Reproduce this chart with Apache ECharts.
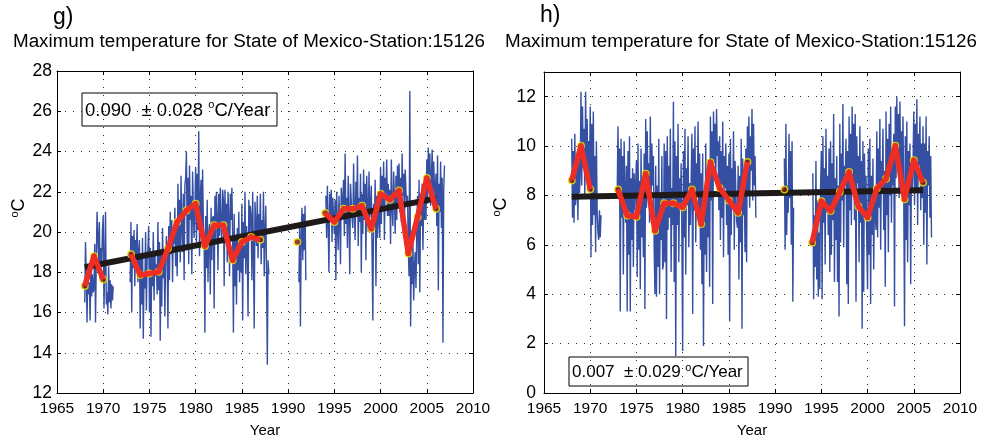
<!DOCTYPE html>
<html>
<head>
<meta charset="utf-8">
<script src="https://cdn.jsdelivr.net/npm/echarts@6/dist/echarts.min.js"></script>
<style>
  html, body { margin: 0; padding: 0; background: #fff; }
  #chart { width: 982px; height: 443px; }
</style>
</head>
<body>
<div id="chart"></div>
<script>
// ---------- Panel g: monthly maximum temperature (°C), station 15126 ----------
// Each segment starts at [year, month index (0 = Jan)] and runs month by month.
const gSegAStart = [1968, 0];
const gSegA = [
  16.5, 19.5, 17.8, 15.5, 18.2, 16.9, 17.5, 15.6, 18.4, 16.8, 17.9, 17.0,
  17.2, 19.4, 15.5, 18.6, 21.0, 19.8, 18.4, 20.5, 17.6, 19.2, 18.3, 20.1,
  20.8, 16.2, 18.5, 21.0, 16.4, 17.0, 15.9, 18.3, 16.5, 17.6, 16.2, 17.4,
  16.6, 17.3
];
const gSegBStart = [1972, 11];
const gSegB = [
  17.5,
  20.5, 16.0, 19.8, 18.2, 20.1, 17.3, 19.6, 18.8, 20.4, 17.5, 19.0, 19.6,
  15.2, 18.9, 16.4, 19.7, 14.7, 18.0, 17.2, 20.0, 16.1, 18.6, 19.1, 20.3,
  16.0, 19.2, 14.8, 18.8, 17.3, 20.0, 16.6, 19.0, 17.8, 18.4, 16.9, 20.5,
  17.1, 19.5, 14.6, 18.9, 16.3, 20.2, 17.7, 19.0, 15.8, 18.5, 19.8, 18.8,
  15.2, 20.3, 17.6, 21.0, 18.9, 20.6, 17.5, 20.1, 19.4, 21.2, 18.3, 20.1,
  17.8, 22.4, 19.3, 21.6, 18.5, 22.8, 20.1, 19.0, 21.9, 17.6, 22.3, 22.7,
  24.0, 19.2, 22.7, 18.4, 23.3, 20.6, 21.8, 17.9, 23.0, 21.1, 19.7, 21.1,
  23.2, 19.5, 22.9, 20.1, 25.0, 18.8, 21.7, 22.6, 19.9, 23.1, 20.4, 19.6,
  15.0, 20.8, 18.2, 21.6, 17.5, 19.9, 20.4, 16.9, 21.2, 18.6, 20.7, 20.8,
  16.2, 21.8, 19.4, 22.0, 20.6, 18.1, 21.9, 19.8, 22.2, 20.3, 19.5, 22.1,
  21.6, 17.3, 22.1, 19.9, 21.4, 18.5, 22.0, 20.7, 17.8, 21.9, 20.6, 22.2,
  19.8, 15.0, 20.9, 17.3, 19.6, 16.4, 20.2, 18.1, 21.0, 17.5, 19.3, 18.0,
  21.4, 15.6, 20.5, 18.7, 22.0, 17.9, 20.3, 19.1, 15.8, 21.6, 19.8, 21.3,
  20.8, 17.6, 22.0, 18.9, 15.2, 21.5, 20.4, 19.3, 21.8, 18.7, 20.9, 19.9,
  21.9, 18.4, 20.6, 19.2, 22.0, 17.8, 20.1, 21.3, 18.0, 13.4, 18.6, 17.9
];
const gSegCStart = [1991, 2];
const gSegC = [17.5, 20.3, 15.3, 19.8, 21.2, 18.6, 20.9, 19.1, 21.3, 17.6];
const gSegDStart = [1994, 1];
const gSegD = [
  21.8, 19.7, 22.3, 20.4, 18.0, 21.9, 20.6, 22.1, 19.5, 21.7, 20.8,
  19.9, 21.6, 17.6, 22.0, 20.3, 19.1, 21.8, 20.6, 18.4, 22.2, 20.9, 21.6,
  22.6, 19.8, 23.9, 20.4, 21.7, 19.2, 22.8, 20.9, 17.9, 22.4, 21.5, 20.7,
  20.2, 23.4, 21.1, 19.6, 22.5, 20.8, 23.8, 19.3, 21.7, 20.5, 22.9, 18.0,
  21.9, 19.9, 23.1, 20.6, 22.4, 18.6, 22.8, 21.2, 20.0, 23.0, 20.7, 21.4,
  22.3, 18.9, 15.6, 21.4, 20.1, 22.6, 17.3, 21.8, 19.7, 22.0, 20.5, 19.7,
  23.2, 20.4, 22.8, 21.1, 23.5, 19.6, 22.7, 21.9, 23.6, 20.8, 22.4, 20.8,
  22.1, 19.4, 23.6, 21.2, 20.3, 23.0, 21.7, 19.9, 22.8, 20.6, 23.3, 21.3,
  23.4, 21.0, 22.7, 20.5, 23.9, 21.8, 22.9, 20.2, 23.1, 22.0, 21.4, 21.8,
  19.2, 17.8, 27.0, 15.3, 18.9, 17.4, 19.5, 16.6, 18.3, 19.0, 17.2, 20.1,
  21.8, 18.4, 22.6, 17.0, 21.9, 20.3, 22.4, 19.1, 21.5, 20.6, 22.7, 20.6,
  23.6, 21.4, 24.2, 22.0, 23.9, 21.3, 22.8, 24.1, 21.6, 23.5, 22.2, 21.6,
  22.9, 20.3, 23.8, 17.1, 22.4, 21.0, 23.5, 20.2, 22.7, 14.5, 22.1, 23.3
];
// Annual means (null = no data that year)
const gYears = [1968, 1969, 1970, 1971, 1973, 1974, 1975, 1976, 1977, 1978, 1979, 1980,
  1981, 1982, 1983, 1984, 1985, 1986, 1987, 1988, 1991, 1992, 1994, 1995, 1996, 1997,
  1998, 1999, 2000, 2001, 2002, 2003, 2004, 2005, 2006];
const gAnnual = [17.32, 18.8, 17.64, null, 18.9, 17.86, 17.94, 18.02, 19.18, 20.5, 21.07, 21.4,
  19.3, 20.33, 20.33, 18.6, 19.5, 19.75, 19.62, null, 19.5, null, 20.94, 20.5, 21.15, 21.15,
  21.3, 20.16, 21.9, 21.6, 22.06, 18.93, 20.74, 22.68, 21.15];
// Linear trend: value at the first year and slope (°C/year)
const gTrendYears = [1968, 2006];
const gTrendStart = 18.25;
const gSlope = 0.090;
const gSlopeErr = 0.028;

// ---------- Panel h: monthly series (°C), station 15126 ----------
const hSegAStart = [1968, 0];
const hSegA = [
  10.3, 7.1, 9.8, 6.9, 10.5, 7.6, 8.2, 9.4, 7.0, 9.6, 8.1, 8.8,
  12.2, 8.4, 11.6, 9.1, 10.7, 7.9, 12.2, 9.3, 11.1, 8.6, 10.2, 8.7,
  11.6, 5.5, 10.9, 6.8, 11.4, 7.2, 9.6, 5.7, 10.2, 7.4, 6.5, 6.2,
  7.4, 6.3, 7.2
];
const hSegBStart = [1972, 11];
const hSegB = [
  8.0,
  10.8, 8.3, 9.9, 3.3, 10.3, 7.1, 9.6, 4.8, 10.2, 8.3, 6.9, 9.2,
  3.3, 9.8, 5.6, 10.4, 3.3, 8.7, 6.2, 9.1, 5.1, 8.9, 7.4, 8.5,
  9.4, 4.7, 10.1, 5.8, 8.6, 4.2, 9.9, 6.3, 8.1, 5.5, 9.7, 3.4,
  11.1, 7.5, 10.6, 8.2, 9.3, 6.9, 11.2, 7.8, 10.1, 8.4, 9.6, 5.9,
  4.0, 9.2, 3.9, 8.4, 5.1, 10.3, 4.0, 7.9, 6.2, 9.6, 5.0, 5.2,
  10.1, 5.3, 9.8, 3.0, 10.4, 6.6, 9.2, 7.1, 10.7, 4.9, 8.3, 6.8,
  11.8, 4.5, 10.2, 1.5, 9.6, 6.8, 10.9, 5.3, 8.7, 7.4, 9.3, 6.2,
  1.7, 9.8, 6.3, 10.7, 4.8, 9.1, 7.6, 10.4, 5.9, 8.5, 6.8, 8.6,
  10.5, 3.2, 9.9, 7.4, 10.8, 6.1, 9.3, 8.0, 11.0, 7.2, 9.7, 5.8,
  8.9, 4.4, 9.7, 1.9, 8.2, 5.6, 10.1, 4.9, 8.6, 6.3, 9.2, 4.3,
  11.2, 7.8, 10.6, 3.6, 11.4, 9.3, 10.9, 8.7, 11.5, 9.6, 10.2, 7.4,
  10.4, 6.2, 9.8, 7.1, 11.0, 5.5, 9.6, 8.3, 10.1, 6.8, 9.2, 5.6,
  9.7, 2.9, 10.3, 6.4, 9.1, 7.5, 10.6, 5.8, 9.4, 8.2, 7.0, 6.7,
  9.2, 4.6, 8.8, 6.1, 10.3, 2.6, 9.5, 7.2, 8.4, 5.7, 9.9, 5.3,
  10.8, 8.1, 11.2, 7.5, 10.4, 9.0, 11.5, 7.8, 10.9, 8.4, 9.6, 7.1
];
const hSegCStart = [1991, 0];
const hSegC = [9.5, 5.8, 10.9, 6.4, 8.4, 7.3, 10.5, 7.9, 9.8, 6.0, 10.2, 3.7, 7.5];
const hSegDStart = [1994, 1];
const hSegD = [
  8.9, 3.8, 7.2, 5.1, 9.4, 4.6, 7.8, 3.9, 6.5, 4.2, 8.3,
  9.8, 3.8, 10.4, 6.9, 9.1, 5.2, 10.7, 7.3, 8.8, 6.4, 9.9, 4.9,
  10.2, 5.6, 9.3, 7.0, 11.3, 4.5, 8.7, 6.2, 9.6, 4.5, 8.4, 3.1,
  10.9, 6.1, 9.7, 7.8, 11.7, 5.9, 9.2, 8.4, 10.3, 4.4, 9.8, 3.6,
  11.2, 7.4, 10.5, 6.8, 11.6, 8.1, 10.9, 7.0, 11.3, 3.7, 10.4, 8.5,
  9.6, 5.3, 10.8, 6.9, 9.4, 2.6, 10.2, 4.1, 9.7, 7.2, 8.8, 6.0,
  4.2, 9.9, 5.6, 10.3, 3.6, 8.8, 6.4, 9.5, 5.0, 8.1, 7.3, 6.6,
  10.6, 6.3, 9.9, 7.5, 11.1, 5.8, 9.4, 8.2, 10.7, 6.6, 9.0, 4.3,
  11.4, 7.2, 10.3, 5.7, 10.9, 8.0, 11.6, 6.9, 9.8, 8.4, 10.5, 3.5,
  11.6, 8.7, 12.0, 9.4, 11.3, 7.9, 11.8, 9.0, 10.6, 8.8, 11.2, 7.8,
  2.7, 10.4, 6.2, 11.0, 5.3, 9.8, 7.6, 10.1, 4.4, 9.3, 8.2, 9.2,
  11.4, 7.6, 10.9, 8.3, 11.9, 6.8, 10.5, 9.2, 11.2, 7.4, 10.1, 7.9,
  10.8, 6.0, 10.1, 7.3, 11.2, 5.2, 9.8, 8.4, 10.4, 7.1, 9.6, 6.3
];
const hYears = gYears;
const hAnnual = [8.61, 10.01, 8.25, null, 8.24, 7.19, 7.14, 8.88, 6.57, 7.68, 7.68, 7.52,
  8.24, 6.84, 9.35, 8.3, 7.8, 7.3, 9.36, null, 8.24, null, 6.08, 7.77, 7.37, 8.15,
  8.95, 7.55, 7.11, 8.28, 8.68, 10.01, 7.85, 9.43, 8.52];
const hTrendYears = [1968, 2006];
const hTrendStart = 7.95;
const hSlope = 0.007;
const hSlopeErr = 0.029;

// ---------- shared text ----------
const titleText = 'Maximum temperature for State of Mexico-Station:15126';
const xTicks = { min: 1965, max: 2010, step: 5 };
const gYTicks = { min: 12, max: 28, step: 2 };
const hYTicks = { min: 0, max: 13, step: 2 };

// ---------- helpers ----------
const FONT = '"Liberation Sans", Arial, Helvetica, sans-serif';

// turn monthly segments into [decimal year, value] pairs with breaks between them
function monthly(segments) {
  const out = [];
  segments.forEach(([start, values], k) => {
    if (k > 0) {
      const prev = out[out.length - 1][0];
      out.push([prev + 0.05, null]);
    }
    values.forEach((v, i) => out.push([start[0] + (start[1] + i) / 12, v]));
  });
  return out;
}
function annual(years, values) {
  return years.map((y, i) => [y, values[i]]);
}
function trend(years, start, slope) {
  return years.map(y => [y, +(start + slope * (y - years[0])).toFixed(3)]);
}

const BLUE = '#3550a3';
const RED = '#ee2e24';
const YELLOW = '#f3e600';
const DARK = '#1e1a1a';

function xAxesFor(gridIndex) {
  const common = {
    type: 'value', gridIndex, min: xTicks.min, max: xTicks.max, interval: xTicks.step,
    axisLine: { show: true, onZero: false, lineStyle: { color: '#000', width: 1 } },
    axisTick: { show: true, inside: true, length: 4, lineStyle: { color: '#000' } }
  };
  return [
    Object.assign({}, common, {
      position: 'bottom',
      name: 'Year', nameLocation: 'middle', nameGap: 30,
      nameTextStyle: { fontFamily: FONT, fontSize: 15, color: '#000' },
      axisLabel: { show: true, margin: 8, fontFamily: FONT, fontSize: 15.5, color: '#000',
                   formatter: v => String(v) },
      splitLine: { show: true, lineStyle: { color: '#333', width: 1, type: [1, 7] } }
    }),
    Object.assign({}, common, {
      position: 'top', axisLabel: { show: false }, splitLine: { show: false }
    })
  ];
}
function yAxesFor(gridIndex, ticks, labelMargin) {
  const common = {
    type: 'value', gridIndex, min: ticks.min, max: ticks.max, interval: ticks.step,
    axisLine: { show: true, onZero: false, lineStyle: { color: '#000', width: 1 } },
    axisTick: { show: true, inside: true, length: 4, lineStyle: { color: '#000' } }
  };
  return [
    Object.assign({}, common, {
      position: 'left',
      axisLabel: { show: true, margin: labelMargin, fontFamily: FONT, fontSize: 17.5, color: '#000',
                   showMaxLabel: ticks.max % ticks.step === 0 },
      splitLine: { show: true, lineStyle: { color: '#333', width: 1, type: [1, 7] } }
    }),
    Object.assign({}, common, {
      position: 'right', axisLabel: { show: false }, splitLine: { show: false }
    })
  ];
}

function seriesFor(gridIdx, segs, years, means, tYears, tStart, slope) {
  const xi = gridIdx * 2, yi = gridIdx * 2;
  const yearly = annual(years, means);
  return [
    {
      type: 'line', xAxisIndex: xi, yAxisIndex: yi, data: monthly(segs),
      showSymbol: false, connectNulls: false,
      lineStyle: { color: BLUE, width: 1.4 }, z: 2
    },
    {
      type: 'line', xAxisIndex: xi, yAxisIndex: yi, data: trend(tYears, tStart, slope),
      showSymbol: false, lineStyle: { color: DARK, width: 6, cap: 'butt' }, z: 3
    },
    {
      // yearly markers sit under the red line, so only their rims show
      type: 'scatter', xAxisIndex: xi, yAxisIndex: yi,
      data: yearly.filter(p => p[1] !== null),
      symbol: 'circle', symbolSize: 6.5,
      itemStyle: { color: '#7a1512', borderColor: YELLOW, borderWidth: 1.5 }, z: 4
    },
    {
      type: 'line', xAxisIndex: xi, yAxisIndex: yi, data: yearly,
      connectNulls: false, showSymbol: false,
      lineStyle: { color: RED, width: 5.5, join: 'round' }, z: 5
    }
  ];
}

function slopeText(slope, err) {
  return '{a|' + slope.toFixed(3) + '  \u00b1 ' + err.toFixed(3) + ' }{s|o}{a|C/Year}';
}
function slopeBox(x, y, w, h, slope, err, fs) {
  return {
    type: 'group', z: 50,
    children: [
      { type: 'rect', shape: { x, y, width: w, height: h },
        style: { fill: '#fff', stroke: '#000', lineWidth: 1 } },
      { type: 'text', x: x + 3, y: y + h / 2 + 1,
        style: {
          text: slopeText(slope, err), verticalAlign: 'middle', align: 'left', fill: '#000',
          rich: {
            a: { fontFamily: FONT, fontSize: fs, lineHeight: fs + 4, fill: '#000' },
            s: { fontFamily: FONT, fontSize: Math.round(fs * 0.62), verticalAlign: 'top', lineHeight: fs + 4, fill: '#000' }
          }
        } }
    ]
  };
}
function degLabel(x, y) {
  return {
    type: 'text', x, y, rotation: Math.PI / 2, z: 50,
    style: {
      text: '{s|o}{c|C}', align: 'center', verticalAlign: 'middle', fill: '#000',
      rich: {
        s: { fontFamily: FONT, fontSize: 11, verticalAlign: 'top', lineHeight: 20, fill: '#000' },
        c: { fontFamily: FONT, fontSize: 18, lineHeight: 20, fill: '#000' }
      }
    }
  };
}

const titleStyle = { fontFamily: FONT, fontSize: 18.8, fontWeight: 'normal', color: '#000' };
const panelStyle = { fontFamily: FONT, fontSize: 23, fontWeight: 'normal', color: '#000' };

const chart = echarts.init(document.getElementById('chart'), null, { renderer: 'canvas' });
chart.setOption({
  animation: false,
  backgroundColor: '#fff',
  title: [
    { text: 'g)', left: 53, top: 6, padding: 0, textStyle: panelStyle },
    { text: titleText, left: 13, top: 32, padding: 0, textStyle: titleStyle },
    { text: 'h)', left: 540, top: 4, padding: 0, textStyle: panelStyle },
    { text: titleText, left: 505, top: 32, padding: 0, textStyle: titleStyle }
  ],
  grid: [
    { left: 57, top: 71, width: 416, height: 326 },
    { left: 544, top: 72, width: 416, height: 325 }
  ],
  xAxis: [].concat(xAxesFor(0), xAxesFor(1)),
  yAxis: [].concat(yAxesFor(0, gYTicks, 5), yAxesFor(1, hYTicks, 8)),
  series: [].concat(
    seriesFor(0, [[gSegAStart, gSegA], [gSegBStart, gSegB], [gSegCStart, gSegC], [gSegDStart, gSegD]],
      gYears, gAnnual, gTrendYears, gTrendStart, gSlope),
    seriesFor(1, [[hSegAStart, hSegA], [hSegBStart, hSegB], [hSegCStart, hSegC], [hSegDStart, hSegD]],
      hYears, hAnnual, hTrendYears, hTrendStart, hSlope)
  ),
  graphic: [
    slopeBox(82, 93, 195, 33, gSlope, gSlopeErr, 18.5),
    slopeBox(569, 357, 179, 29, hSlope, hSlopeErr, 17),
    degLabel(19, 208),
    degLabel(501, 207)
  ]
});
</script>
</body>
</html>
